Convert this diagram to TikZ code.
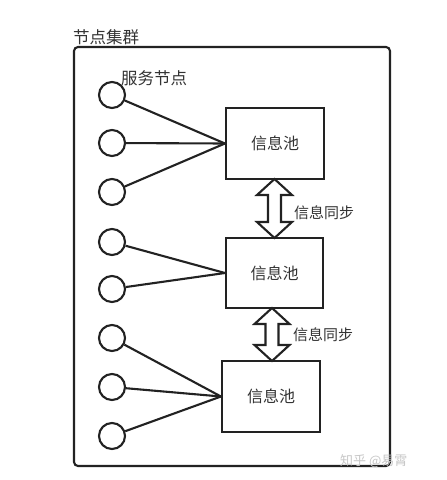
\documentclass[tikz,border=0pt]{standalone}
\usepackage{fontspec}
\setmainfont{Noto Sans CJK SC}
\usetikzlibrary{calc}
\definecolor{ink}{HTML}{222222}
\definecolor{txt}{HTML}{333333}
\tikzset{
  svc/.style={circle, draw=ink, line width=2.1pt, minimum size=26pt, inner sep=0pt},
  pool/.style={draw=ink, line width=2.1pt, inner sep=0pt, text=txt, font=\fontsize{16}{18}\selectfont},
  link/.style={draw=ink, line width=2.1pt},
  sync/.style={draw=ink, line width=2.1pt, fill=white, line join=miter},
  lab/.style={text=txt, inner sep=0pt},
}
\newcommand\syncarrow[3]{% x, ytop, ybot
  \draw[sync] (#1,#2) -- ++(17.5,16) -- ++(-11,0) -- (#1+6.5,#3-16) -- ++(11,0)
    -- (#1,#3) -- ++(-17.5,-16) -- ++(11,0) -- (#1-6.5,#2+16) -- ++(-11,0) -- cycle;}
\begin{document}
\begin{tikzpicture}[x=1pt,y=-1pt]
\useasboundingbox (0,0) rectangle (447,480);
\fill[white] (0,0) rectangle (447,480);
% cluster
\draw[ink, line width=2.1pt, rounded corners=4pt] (74,47) rectangle (390,466);
\node[lab, anchor=west, font=\fontsize{16.5}{18}\selectfont] (title) at (73,37) {节点集群};
\node[lab, anchor=west, font=\fontsize{16.5}{18}\selectfont] (svclab) at (121,78) {服务节点};
% pools
\node[pool, minimum width=98pt, minimum height=71pt] (b1) at (275,143.5) {信息池};
\node[pool, minimum width=97pt, minimum height=70pt] (b2) at (274.5,273) {信息池};
\node[pool, minimum width=98pt, minimum height=71pt] (b3) at (271,396.5) {信息池};
% service nodes
\foreach \i/\y in {1/95,2/143,3/192,4/242,5/289,6/338,7/387,8/436}
  \node[svc] (c\i) at (112,\y) {};
\foreach \i in {1,2,3} \draw[link] (c\i) -- (b1.west);
\foreach \i in {4,5} \draw[link] (c\i) -- (b2.west);
\foreach \i in {6,7,8} \draw[link] (c\i) -- (b3.west);
% sync arrows
\syncarrow{274.5}{179}{238}
\syncarrow{272}{308}{361}
\node[lab, anchor=west, font=\fontsize{15}{17}\selectfont] (s1) at (294,213) {信息同步};
\node[lab, anchor=west, font=\fontsize{15}{17}\selectfont] (s2) at (293,335) {信息同步};
% watermark
\node[anchor=west, inner sep=0pt, text=black!22, font=\fontsize{13}{15}\selectfont] (wm) at (340,461) {知乎 @易霄};
\end{tikzpicture}
\end{document}
